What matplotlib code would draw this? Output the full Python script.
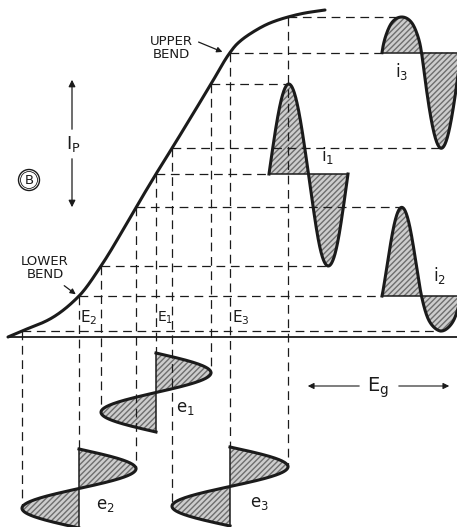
import numpy as np
import matplotlib.pyplot as plt
from matplotlib.patches import Circle

# tube transfer curve (pixel units, y grows downward)
curve_x = [8, 22, 50, 79, 101, 138, 156, 174, 211, 229, 237, 253, 270, 288, 305, 325]
curve_y = [337, 331, 319, 296, 266, 204, 174, 145, 84, 54, 44, 32, 23, 17, 13, 10]

# the three operating points: grid bias E, signal swing, where each wave sits
names = ['1', '2', '3']
bias = [156, 79, 230]
swing = [55, 57, 58]
e_top = [353, 449, 447]      # where the grid wave e starts (time runs down)
i_left = [269, 382, 382]     # where the plate wave i starts (time runs right)
period = 79
axis_y = 337

ink = '#1b1b1b'


def transfer(xq):
    # monotone cubic through the curve points
    xk = np.asarray(curve_x, float)
    yk = np.asarray(curve_y, float)
    h = np.diff(xk)
    d = np.diff(yk) / h
    m = np.empty_like(xk)
    m[0], m[-1] = d[0], d[-1]
    for k in range(1, len(xk) - 1):
        if d[k - 1] * d[k] <= 0:
            m[k] = 0
        else:
            w1 = 2 * h[k] + h[k - 1]
            w2 = h[k] + 2 * h[k - 1]
            m[k] = (w1 + w2) / (w1 / d[k - 1] + w2 / d[k])
    xq = np.asarray(xq, float)
    j = np.clip(np.searchsorted(xk, xq) - 1, 0, len(h) - 1)
    t = (xq - xk[j]) / h[j]
    return ((2 * t**3 - 3 * t**2 + 1) * yk[j] + (t**3 - 2 * t**2 + t) * h[j] * m[j]
            + (-2 * t**3 + 3 * t**2) * yk[j + 1] + (t**3 - t**2) * h[j] * m[j + 1])


fig = plt.figure(figsize=(4.57, 5.27), dpi=100)
ax = fig.add_axes([0, 0, 1, 1])
ax.set_xlim(0, 457)
ax.set_ylim(527, 0)
ax.axis('off')

dash = dict(color=ink, lw=0.9, linestyle=(0, (7, 4.5)), zorder=2.5)
fill = dict(facecolor='#cdcdcd', edgecolor='#6e6e6e', hatch='//////', lw=0, zorder=2)

# Eg axis and the curve
ax.plot([curve_x[0], 457], [axis_y, axis_y], color=ink, lw=1.3, zorder=3)
xs = np.linspace(curve_x[0], curve_x[-1], 400)
ax.plot(xs, transfer(xs), color=ink, lw=2.2, solid_capstyle='round', zorder=4)

t = np.linspace(0, period, 300)
for n, E, A, ey, ix in zip(names, bias, swing, e_top, i_left):
    lo, hi = E - A, E + A
    # projection lines down to the grid wave
    ax.plot([lo, lo], [transfer(lo), ey + 0.75 * period], **dash)
    ax.plot([E, E], [transfer(E), ey], **dash)
    ax.plot([hi, hi], [transfer(hi), ey + 0.25 * period], **dash)
    # projection lines across to the plate wave
    ax.plot([hi, ix + 0.25 * period], [transfer(hi)] * 2, **dash)
    ax.plot([E, ix], [transfer(E)] * 2, **dash)
    ax.plot([lo, ix + 0.75 * period], [transfer(lo)] * 2, **dash)

    # grid wave e
    ex = E + A * np.sin(2 * np.pi * t / period)
    ax.fill_betweenx(ey + t, E, ex, **fill)
    ax.plot([E, E], [ey, ey + period], color=ink, lw=1.1, zorder=3)
    ax.plot(ex, ey + t, color=ink, lw=2.2, zorder=4)

    # plate wave i
    iy = transfer(ex)
    base = transfer(E)
    ax.fill_between(ix + t, base, iy, **fill)
    ax.plot([ix, ix + period], [base, base], color=ink, lw=1.1, zorder=3)
    ax.plot(ix + t, iy, color=ink, lw=2.2, zorder=4)

# labels
txt = dict(color=ink, family='DejaVu Sans', ha='center', va='center')
ax.text(171, 48, 'UPPER\nBEND', fontsize=9.5, linespacing=1.0, **txt)
ax.text(45, 268, 'LOWER\nBEND', fontsize=9.5, linespacing=1.0, **txt)
ax.annotate('', xy=(225, 53), xytext=(196, 41),
            arrowprops=dict(arrowstyle='-|>', color=ink, lw=0.9, mutation_scale=8))
ax.annotate('', xy=(78, 296), xytext=(62, 284),
            arrowprops=dict(arrowstyle='-|>', color=ink, lw=0.9, mutation_scale=8))

ax.text(73, 144, r'$\mathregular{I_P}$', fontsize=13, **txt)
ax.annotate('', xy=(72, 77), xytext=(72, 132),
            arrowprops=dict(arrowstyle='-|>', color=ink, lw=0.9, mutation_scale=10))
ax.annotate('', xy=(72, 210), xytext=(72, 156),
            arrowprops=dict(arrowstyle='-|>', color=ink, lw=0.9, mutation_scale=10))

ax.add_patch(Circle((29, 180), 10.5, fill=False, ec=ink, lw=1.0))
ax.add_patch(Circle((29, 180), 8.5, fill=False, ec=ink, lw=0.6))
ax.text(29, 180.5, 'B', fontsize=9.5, **txt)

big = dict(color=ink, family='DejaVu Sans', ha='left', va='center')
ax.text(80, 318, r'$\mathregular{E_2}$', fontsize=11, **big)
ax.text(157, 318, r'$\mathregular{E_1}$', fontsize=10, **big)
ax.text(232, 318, r'$\mathregular{E_3}$', fontsize=11, **big)
ax.text(176, 408, r'$\mathregular{e_1}$', fontsize=12, **big)
ax.text(96, 505, r'$\mathregular{e_2}$', fontsize=12, **big)
ax.text(250, 503, r'$\mathregular{e_3}$', fontsize=12, **big)
ax.text(321, 155, r'$\mathregular{i_1}$', fontsize=12, **big)
ax.text(395, 72, r'$\mathregular{i_3}$', fontsize=12, **big)
ax.text(433, 276, r'$\mathregular{i_2}$', fontsize=12, **big)

ax.text(378, 388, r'$\mathregular{E_g}$', fontsize=14, **txt)
ax.annotate('', xy=(305, 386), xytext=(362, 386),
            arrowprops=dict(arrowstyle='-|>', color=ink, lw=0.8, mutation_scale=9))
ax.annotate('', xy=(452, 386), xytext=(396, 386),
            arrowprops=dict(arrowstyle='-|>', color=ink, lw=0.8, mutation_scale=9))

fig.savefig('out.png', dpi=100, facecolor='white')
